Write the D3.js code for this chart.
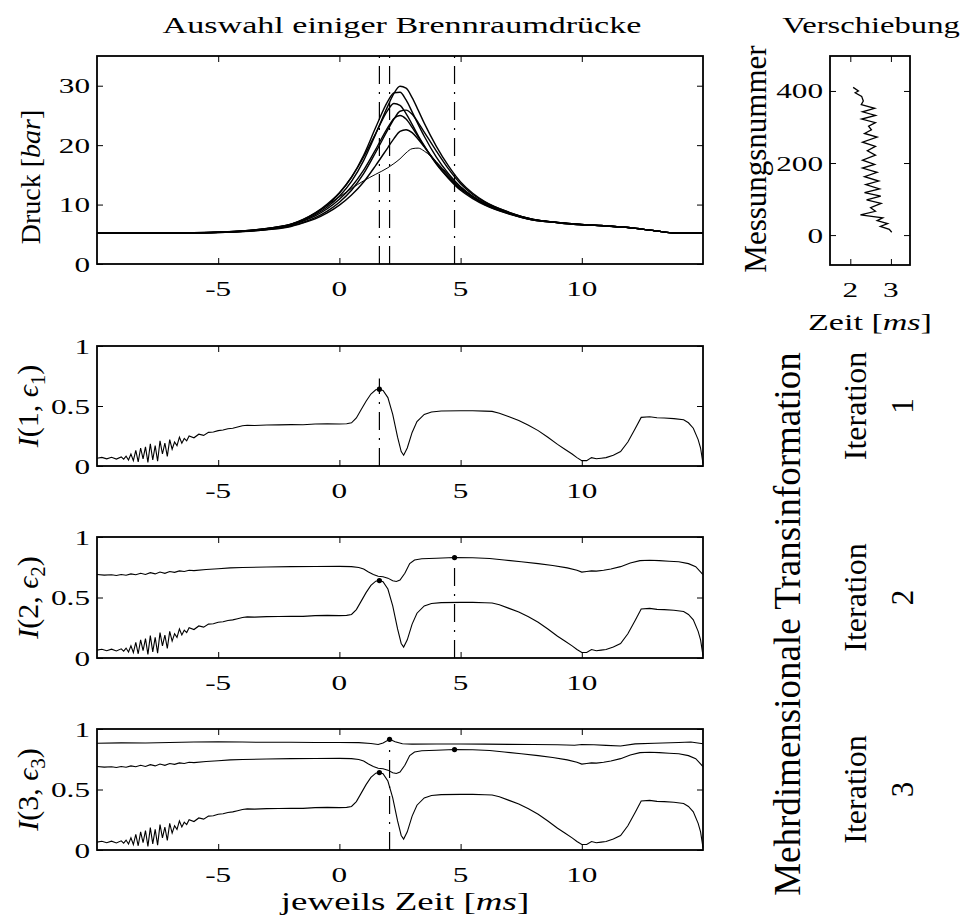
<!DOCTYPE html>
<html><head><meta charset="utf-8">
<script src="https://cdn.jsdelivr.net/npm/d3@7"></script>
<style>
body{margin:0;background:#fff}
svg{display:block}
text{font-family:"Liberation Serif","DejaVu Serif",serif;fill:#000}
</style>
</head><body>
<svg id="c" width="962" height="922"></svg>
<script>
// ---------------- DATA ----------------
const timeTicks = [-5, 0, 5, 10];
const pressureTicks = [0, 10, 20, 30];
const infoTicks = [0, 0.5, 1];
const shiftTimeTicks = [2, 3];
const shiftNumTicks = [0, 200, 400];

// pressure traces (bar) sampled at pressureTime (ms)
const pressureTime = [-10,-8,-6,-5,-4,-3,-2,-1.5,-1,-0.5,0,0.5,1,1.5,2,2.25,2.5,2.75,3,3.25,3.5,4,4.5,5,5.5,6,7,8,9,10,11,12,13,14,15];
const pressureA = [5.2,5.2,5.25,5.35,5.5,5.9,6.6,7.3,8.3,9.6,11.4,13.9,17.4,21.9,26.6,28.7,29.9,29.6,28.0,25.9,23.7,19.8,16.5,13.8,11.9,10.5,8.7,7.5,7.0,6.65,6.4,6.1,5.6,5.2,5.2];
const pressureB = [5.2,5.2,5.25,5.35,5.55,5.95,6.7,7.4,8.5,9.9,11.9,14.6,18.3,23.0,27.4,28.8,28.9,27.6,25.6,23.5,21.5,18.0,15.2,13.0,11.4,10.2,8.6,7.5,7.0,6.65,6.4,6.1,5.6,5.2,5.2];
const pressureC = [5.2,5.2,5.25,5.35,5.55,6.0,6.7,7.5,8.6,10.1,12.0,14.6,18.0,22.0,25.9,27.0,26.7,25.3,23.5,21.6,19.9,16.8,14.4,12.4,11.0,9.9,8.4,7.4,6.95,6.6,6.4,6.1,5.6,5.2,5.2];
const pressureD = [5.2,5.2,5.25,5.3,5.45,5.8,6.4,7.0,7.8,8.9,10.4,12.4,15.2,18.8,22.6,24.4,25.7,25.9,25.2,23.8,22.2,19.0,16.0,13.5,11.7,10.4,8.7,7.5,7.0,6.65,6.4,6.1,5.6,5.2,5.2];
const pressureE = [5.2,5.2,5.25,5.35,5.5,5.85,6.5,7.2,8.1,9.3,10.9,13.0,15.8,19.3,23.0,24.5,25.0,24.4,23.0,21.4,19.8,16.9,14.5,12.6,11.2,10.0,8.5,7.4,6.95,6.6,6.4,6.1,5.6,5.2,5.2];
const pressureF = [5.2,5.2,5.25,5.3,5.45,5.75,6.3,6.9,7.6,8.6,9.9,11.6,13.8,16.6,19.6,21.1,22.3,22.6,22.1,21.0,19.7,17.1,14.8,12.8,11.3,10.1,8.5,7.4,6.95,6.6,6.4,6.1,5.6,5.2,5.2];
const pressureG = [5.2,5.2,5.25,5.35,5.6,6.0,6.7,7.5,8.6,9.9,11.3,12.7,14.0,15.1,16.2,16.9,17.7,18.7,19.4,19.5,19.0,17.2,15.0,13.0,11.4,10.2,8.6,7.5,7.0,6.65,6.4,6.1,5.6,5.2,5.2];
const pressureSeries = [pressureA, pressureB, pressureC, pressureD, pressureE, pressureF, pressureG];

// selected times (ms) of the three iterations
const markTimes = [1.65, 4.75, 2.07];

// shift plot: measurement number vs time (ms)
const shiftNum  = [410,400,395,385,372,362,352,342,332,322,312,302,292,282,272,258,246,234,222,208,196,186,174,162,150,140,128,118,108,98,88,76,66,56,48,40,32,24,16,8];
const shiftTime = [2.07,2.2,2.12,2.28,2.32,2.27,2.6,2.3,2.62,2.28,2.62,2.45,2.52,2.35,2.66,2.3,2.62,2.42,2.62,2.3,2.6,2.3,2.66,2.35,2.7,2.38,2.72,2.35,2.75,2.4,2.76,2.5,2.62,2.25,2.8,2.66,2.92,2.74,2.96,3.02];

// transinformation curves
const info1Time = [-10,-9.8,-9.6,-9.4,-9.2,-9.0,-8.9,-8.8,-8.7,-8.6,-8.5,-8.4,-8.3,-8.2,-8.1,-8.0,-7.9,-7.8,-7.7,-7.6,-7.5,-7.4,-7.3,-7.2,-7.1,-7.0,-6.9,-6.8,-6.7,-6.6,-6.5,-6.4,-6.3,-6.2,-6.0,-5.8,-5.6,-5.4,-5.2,-5.0,-4.8,-4.6,-4.4,-4.2,-4.0,-3.8,-3.5,-3.0,-2.5,-2.0,-1.5,-1.0,-0.5,0,0.3,0.5,0.7,0.9,1.1,1.3,1.5,1.65,1.8,2.0,2.2,2.4,2.55,2.65,2.8,3.0,3.2,3.5,3.8,4.2,5.0,5.5,6.0,6.3,6.6,7.0,7.4,7.8,8.2,8.6,9.0,9.3,9.6,9.8,10.0,10.2,10.4,10.6,10.8,11.0,11.3,11.6,11.9,12.2,12.45,12.8,13.1,13.4,13.8,14.2,14.4,14.6,14.8,14.9,15.0];
const info1 = [0.065,0.072,0.06,0.073,0.058,0.076,0.057,0.082,0.05,0.1,0.045,0.13,0.035,0.15,0.06,0.16,0.03,0.185,0.05,0.17,0.04,0.21,0.1,0.19,0.08,0.22,0.14,0.2,0.17,0.24,0.19,0.23,0.21,0.25,0.235,0.265,0.255,0.28,0.283,0.295,0.3,0.31,0.315,0.325,0.335,0.34,0.338,0.342,0.343,0.345,0.344,0.35,0.352,0.35,0.352,0.36,0.4,0.47,0.54,0.6,0.635,0.64,0.63,0.57,0.43,0.24,0.12,0.09,0.15,0.28,0.37,0.43,0.45,0.458,0.46,0.46,0.457,0.455,0.44,0.41,0.38,0.34,0.295,0.24,0.18,0.14,0.1,0.07,0.045,0.045,0.07,0.06,0.065,0.07,0.09,0.12,0.2,0.31,0.405,0.41,0.402,0.4,0.395,0.385,0.36,0.315,0.22,0.15,0.02];

const info2Time = [-10,-9.7,-9.4,-9.2,-9.0,-8.8,-8.6,-8.4,-8.2,-8.0,-7.8,-7.6,-7.4,-7.2,-7.0,-6.8,-6.6,-6.4,-6.2,-6.0,-5.5,-5.0,-4.5,-4.0,-3.0,-2.0,-1.0,0,0.5,0.8,1.0,1.2,1.4,1.6,1.8,2.0,2.2,2.35,2.5,2.7,2.9,3.1,3.4,4.0,4.75,5.5,6.2,6.8,7.5,8.2,8.8,9.4,9.8,10.0,10.2,10.4,10.6,10.9,11.2,11.6,12.0,12.4,12.8,13.2,13.6,14.0,14.4,14.7,15.0];
const info2 = [0.69,0.685,0.688,0.682,0.69,0.684,0.695,0.688,0.7,0.69,0.705,0.695,0.71,0.7,0.715,0.708,0.72,0.715,0.725,0.722,0.732,0.738,0.745,0.748,0.752,0.755,0.756,0.757,0.755,0.748,0.735,0.71,0.69,0.675,0.672,0.66,0.638,0.632,0.645,0.7,0.78,0.81,0.82,0.825,0.83,0.828,0.822,0.81,0.795,0.78,0.765,0.745,0.725,0.71,0.715,0.72,0.718,0.725,0.735,0.755,0.785,0.805,0.808,0.805,0.8,0.795,0.78,0.755,0.69];

const info3Time = [-10,-9,-8,-7,-6,-5,-4,-3,-2,-1,0,0.8,1.3,1.6,1.8,2.07,2.3,2.6,3.0,4,5,6,7,8,9,9.7,10,10.5,11,11.6,12.2,13,14,14.5,15];
const info3 = [0.882,0.885,0.884,0.888,0.892,0.895,0.892,0.89,0.89,0.889,0.888,0.887,0.88,0.872,0.885,0.915,0.895,0.878,0.875,0.876,0.876,0.875,0.873,0.872,0.87,0.866,0.872,0.87,0.865,0.86,0.877,0.882,0.888,0.892,0.878];

// ---------------- DRAWING ----------------
const svg = d3.select("#c");
const SX = 1.42;       // horizontal glyph stretch of the original figure
const TICKFS = 22;

function label(g, x, y, parts, o) {
  o = o || {};
  const rot = o.rot || 0, sx = o.sx || 1, fs = o.fs || 24;
  const t = g.append("text")
    .attr("transform", `translate(${x},${y}) rotate(${rot}) scale(${sx},1)`)
    .attr("text-anchor", o.anchor || "middle")
    .attr("font-size", fs);
  parts.forEach(p => {
    if (typeof p === "string") p = {t: p};
    const s = t.append("tspan").text(p.t);
    if (p.i) s.attr("font-style", "italic");
    if (p.sub) s.attr("font-size", fs * 0.7).attr("dy", fs * 0.22);
    if (p.unsub) s.attr("dy", -fs * 0.22);
  });
  return t;
}

const X0 = 97, X1 = 703;
const x = d3.scaleLinear().domain([-10, 15]).range([X0, X1]);

function frame(g, xs, ys, xt, yt, xlabels, ylabels) {
  const [l, r] = xs.range(), [b, t] = ys.range();
  const tk = 6;
  g.append("g").attr("transform", `translate(0,${b})`)
    .call(d3.axisBottom(xs).tickValues(xt).tickSizeInner(-tk).tickSizeOuter(0).tickFormat(""));
  g.append("g").attr("transform", `translate(0,${t})`)
    .call(d3.axisTop(xs).tickValues(xt).tickSizeInner(-tk).tickSizeOuter(0).tickFormat(""));
  g.append("g").attr("transform", `translate(${l},0)`)
    .call(d3.axisLeft(ys).tickValues(yt).tickSizeInner(-tk).tickSizeOuter(0).tickFormat(""));
  g.append("g").attr("transform", `translate(${r},0)`)
    .call(d3.axisRight(ys).tickValues(yt).tickSizeInner(-tk).tickSizeOuter(0).tickFormat(""));
  g.selectAll(".domain").remove();
  g.selectAll(".tick line").attr("stroke", "#000").attr("stroke-width", 1);
  g.append("rect").attr("x", l).attr("y", t).attr("width", r - l).attr("height", b - t)
    .attr("fill", "none").attr("stroke", "#000").attr("stroke-width", 1.8);
  if (xlabels) xt.forEach(v => label(g, xs(v), b + 32, [String(v)], {sx: SX, fs: TICKFS}));
  if (ylabels) yt.forEach(v => label(g, l - 7, ys(v) + 7.5, [String(v)], {sx: SX, fs: TICKFS, anchor: "end"}));
}

function vline(g, xs, ys, xv, y0, y1) {
  g.append("line").attr("x1", xs(xv)).attr("x2", xs(xv))
    .attr("y1", ys(y0)).attr("y2", ys(y1))
    .attr("stroke", "#000").attr("stroke-width", 1.2)
    .attr("stroke-dasharray", "18,8,2,8");
}

// ---- top: pressure ----
const gTop = svg.append("g");
const yP = d3.scaleLinear().domain([0, 35]).range([264, 56]);
const pLine = d3.line().x((d, i) => x(pressureTime[i])).y(d => yP(d)).curve(d3.curveMonotoneX);
pressureSeries.forEach((s, k) => {
  gTop.append("path").attr("d", pLine(s)).attr("fill", "none")
    .attr("stroke", "#000").attr("stroke-width", k === 6 ? 1.0 : 1.4);
});
[markTimes[0], markTimes[2], markTimes[1]].forEach(t => vline(gTop, x, yP, t, 0, 35));
frame(gTop, x, yP, timeTicks, pressureTicks, true, true);
label(gTop, 402, 33, ["Auswahl einiger Brennraumdrücke"], {sx: SX, fs: 24});
label(gTop, 40, 177, ["Druck [", {t: "bar", i: true}, "]"], {rot: -90, fs: 28});

// ---- small: shift ----
const gS = svg.append("g");
const xS = d3.scaleLinear().domain([1.5, 3.47]).range([830, 910]);
const yS = d3.scaleLinear().domain([-83, 497]).range([265, 56]);
gS.append("path").attr("d", d3.line().x((d, i) => xS(shiftTime[i])).y(d => yS(d))(shiftNum))
  .attr("fill", "none").attr("stroke", "#000").attr("stroke-width", 1.3);
frame(gS, xS, yS, shiftTimeTicks, shiftNumTicks, true, true);
label(gS, 871, 33, ["Verschiebung"], {sx: 1.36, fs: 24});
label(gS, 870, 330, ["Zeit [", {t: "ms", i: true}, "]"], {sx: SX, fs: 24});
label(gS, 766, 159, ["Messungsnummer"], {rot: -90, fs: 31});

// ---- transinformation plots ----
const panels = [
  {top: 346, bot: 466, curves: [[info1Time, info1]], dots: [[1.65, 0.64]], line: [1.65, 0.73], n: "1"},
  {top: 537, bot: 658, curves: [[info1Time, info1], [info2Time, info2]], dots: [[1.65, 0.64], [4.75, 0.83]], line: [4.75, 0.855], n: "2"},
  {top: 729, bot: 850, curves: [[info1Time, info1], [info2Time, info2], [info3Time, info3]], dots: [[1.65, 0.64], [4.75, 0.83], [2.07, 0.915]], line: [2.07, 0.925], n: "3"}
];
panels.forEach((p, k) => {
  const g = svg.append("g");
  const yI = d3.scaleLinear().domain([0, 1]).range([p.bot, p.top]);
  vline(g, x, yI, p.line[0], 0, p.line[1]);
  p.curves.forEach(([tt, vv]) => {
    g.append("path").attr("d", d3.line().x((d, i) => x(tt[i])).y(d => yI(d))(vv))
      .attr("fill", "none").attr("stroke", "#000").attr("stroke-width", 1.1);
  });
  g.selectAll("circle.dot").data(p.dots).join("circle").attr("class", "dot")
    .attr("cx", d => x(d[0])).attr("cy", d => yI(d[1])).attr("r", 2.6).attr("fill", "#000");
  frame(g, x, yI, timeTicks, infoTicks, true, true);
  const cy = (p.top + p.bot) / 2;
  label(g, 38, cy, [{t: "I", i: true}, "(" + p.n + ", ", {t: "ϵ", i: true}, {t: p.n, sub: true}, {t: ")", unsub: true}], {rot: -90, fs: 30});
  label(g, 866, cy, ["Iteration"], {rot: -90, fs: 32});
  label(g, 913, cy, [p.n], {rot: -90, fs: 31});
});
label(svg, 405, 910, ["jeweils Zeit [", {t: "ms", i: true}, "]"], {sx: 1.45, fs: 25.5});
label(svg, 800, 624, ["Mehrdimensionale Transinformation"], {rot: -90, fs: 37});
</script>
</body></html>
